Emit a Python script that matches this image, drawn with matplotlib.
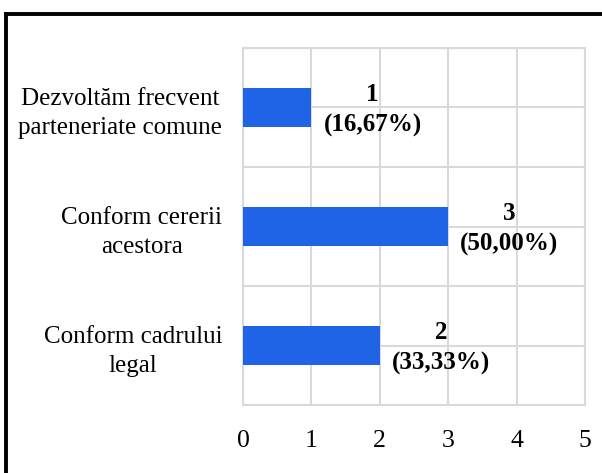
import matplotlib.pyplot as plt
from matplotlib.lines import Line2D

plt.rcParams["font.family"] = ["Liberation Serif", "DejaVu Serif"]

categories = ["Conform cadrului\nlegal", "Conform cererii\nacestora",
              "Dezvoltăm frecvent\nparteneriate comune"]
counts = [2, 3, 1]
percents = ["33,33%", "50,00%", "16,67%"]
bar_color = "#1F64E6"
grid_color = "#D9D9D9"


def generate_plot():
    fig = plt.figure(figsize=(6.02, 4.73), dpi=100)
    ax = fig.add_axes([243 / 602, 1 - 405 / 473, 342 / 602, 357 / 473])

    y = list(range(len(categories)))
    ax.barh(y, counts, height=0.32, color=bar_color, zorder=3)

    for yi, c, p in zip(y, counts, percents):
        ax.annotate(f"{c}\n({p})", xy=(c, yi), xytext=(44, -2),
                    textcoords="offset points", ha="center", va="center",
                    fontsize=18, fontweight="bold", linespacing=1.4)

    ax.set_xlim(0, 5)
    ax.set_ylim(-0.5, 2.5)
    ax.set_xticks(range(6))
    ax.set_yticks(y)
    ax.set_yticklabels(categories, fontsize=18, linespacing=1.4)
    for lab in ax.get_yticklabels():
        lab.set_multialignment("center")
    ax.set_yticks([-0.5, 0.5, 1.5, 2.5], minor=True)
    ax.tick_params(axis="both", which="both", length=0)
    ax.tick_params(axis="x", labelsize=18.5, pad=18)
    ax.tick_params(axis="y", pad=15)

    ax.grid(True, which="both", color=grid_color, linewidth=1.5, zorder=0)
    for s in ax.spines.values():
        s.set_color(grid_color)
        s.set_linewidth(1.5)

    # black frame, only left and top edges show in the picture
    fig.add_artist(Line2D([6 / 602, 6 / 602], [0, 1 - 14 / 473],
                          color="black", linewidth=2.8))
    fig.add_artist(Line2D([6 / 602, 1], [1 - 14 / 473, 1 - 14 / 473],
                          color="black", linewidth=2.8))

    fig.savefig("out.png", dpi=100)


def main():
    generate_plot()


if __name__ == "__main__":
    main()
